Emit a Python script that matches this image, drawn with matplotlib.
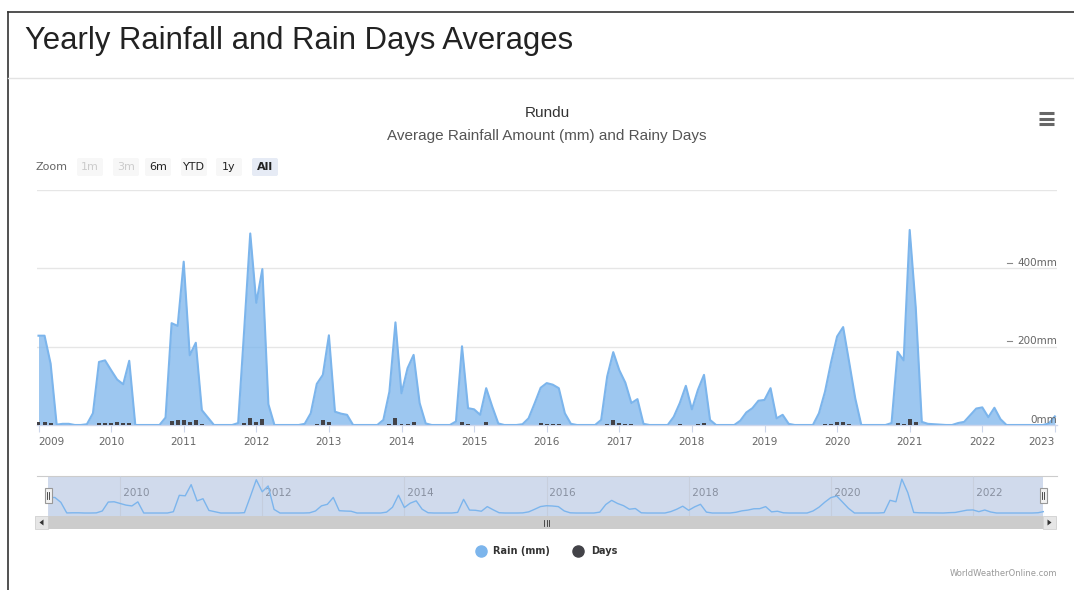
import numpy as np
import matplotlib
matplotlib.use("Agg")
import matplotlib.pyplot as plt
from matplotlib.patches import Rectangle, FancyBboxPatch, Polygon
import matplotlib.transforms as mtransforms

# ---------------- data (monthly, Jan 2009 .. Jan 2023) ----------------
rain_2009 = [228, 228, 157, 1, 3, 3, 0, 0, 2, 30, 161, 165]
rain_2010 = [140, 116, 104, 164, 0, 0, 0, 0, 0, 19, 260, 253]
rain_2011 = [417, 178, 210, 38, 19, 0, 0, 0, 0, 5, 243, 489]
rain_2012 = [312, 398, 53, 0, 0, 0, 0, 0, 3, 30, 105, 128]
rain_2013 = [229, 34, 29, 26, 0, 0, 0, 0, 0, 13, 85, 262]
rain_2014 = [81, 145, 179, 56, 4, 0, 0, 0, 0, 9, 201, 43]
rain_2015 = [40, 26, 94, 47, 4, 0, 0, 0, 2, 17, 55, 95]
rain_2016 = [107, 103, 94, 30, 3, 0, 0, 0, 0, 13, 124, 186]
rain_2017 = [140, 108, 56, 66, 3, 0, 0, 0, 0, 21, 56, 100]
rain_2018 = [40, 90, 128, 13, 0, 0, 0, 0, 11, 32, 43, 62]
rain_2019 = [64, 94, 17, 26, 3, 0, 0, 0, 0, 30, 85, 160]
rain_2020 = [226, 250, 160, 68, 0, 0, 0, 0, 0, 5, 187, 165]
rain_2021 = [498, 300, 8, 3, 2, 1, 0, 0, 5, 8, 25, 42]
rain_2022 = [45, 20, 44, 15, 0, 0, 0, 0, 0, 0, 0, 4]
rain_2023 = [22]

days_2009 = [0.9, 0.9, 0.6, 0, 0, 0, 0, 0, 0, 0, 0.6, 0.6]
days_2010 = [0.6, 0.9, 0.6, 0.6, 0, 0, 0, 0, 0, 0, 1.2, 1.6]
days_2011 = [1.5, 0.9, 1.6, 0.2, 0, 0, 0, 0, 0, 0, 0.6, 2.0]
days_2012 = [0.8, 1.7, 0, 0, 0, 0, 0, 0, 0, 0, 0.3, 1.5]
days_2013 = [0.9, 0, 0, 0, 0, 0, 0, 0, 0, 0, 0.3, 2.0]
days_2014 = [0.3, 0.3, 0.8, 0, 0, 0, 0, 0, 0, 0, 0.9, 0.3]
days_2015 = [0, 0, 0.9, 0, 0, 0, 0, 0, 0, 0, 0, 0.7]
days_2016 = [0.3, 0.3, 0.3, 0, 0, 0, 0, 0, 0, 0, 0.3, 1.5]
days_2017 = [0.6, 0.3, 0.3, 0, 0, 0, 0, 0, 0, 0, 0.3, 0]
days_2018 = [0, 0.3, 0.6, 0, 0, 0, 0, 0, 0, 0, 0, 0]
days_2019 = [0, 0, 0, 0, 0, 0, 0, 0, 0, 0, 0.2, 0.4]
days_2020 = [0.8, 0.8, 0.4, 0, 0, 0, 0, 0, 0, 0, 0.7, 0.4]
days_2021 = [1.7, 1.0, 0, 0, 0, 0, 0, 0, 0, 0, 0, 0]
days_2022 = [0, 0, 0, 0, 0, 0, 0, 0, 0, 0, 0, 0]
days_2023 = [0]

year_labels = [str(y) for y in range(2009, 2024)]
nav_year_labels = ["2010", "2012", "2014", "2016", "2018", "2020", "2022"]
y_ticks = [0, 200, 400]
y_tick_labels = ["0mm", "200mm", "400mm"]
zoom_buttons = ["1m", "3m", "6m", "YTD", "1y", "All"]
legend_labels = ["Rain (mm)", "Days"]

rain_mm = (rain_2009 + rain_2010 + rain_2011 + rain_2012 + rain_2013 + rain_2014 +
           rain_2015 + rain_2016 + rain_2017 + rain_2018 + rain_2019 + rain_2020 +
           rain_2021 + rain_2022 + rain_2023)
rain_days = (days_2009 + days_2010 + days_2011 + days_2012 + days_2013 + days_2014 +
             days_2015 + days_2016 + days_2017 + days_2018 + days_2019 + days_2020 +
             days_2021 + days_2022 + days_2023)
months = np.arange(len(rain_mm))

# ---------------- figure ----------------
W, H = 1074, 590
fig = plt.figure(figsize=(W / 100, H / 100), dpi=100)
fig.patch.set_facecolor("white")


def ax_px(x0, y0, x1, y1, **kw):
    return fig.add_axes([x0 / W, 1 - y1 / H, (x1 - x0) / W, (y1 - y0) / H], **kw)


BLUE = "#7cb5ec"
DARK = "#434348"
GRID = "#e6e6e6"

# background decoration axes (pixel coordinates)
bg = fig.add_axes([0, 0, 1, 1])
bg.set_xlim(0, W)
bg.set_ylim(H, 0)
bg.axis("off")

# panel borders
bg.plot([8, W], [12, 12], color="#333333", lw=1.2)
bg.plot([8, 8], [12, H], color="#333333", lw=1.2)
bg.plot([8, W], [78, 78], color="#e3e3e3", lw=1.0)

# page title
bg.text(25, 41, "Yearly Rainfall and Rain Days Averages", fontsize=22.3,
        family="Liberation Sans", color="#222222", va="center", ha="left")

# chart title / subtitle
bg.text(547, 113, "Rundu", fontsize=11, family="Liberation Sans",
        color="#333333", ha="center", va="center")
bg.text(547, 136, "Average Rainfall Amount (mm) and Rainy Days", fontsize=11,
        family="Liberation Sans", color="#555555", ha="center", va="center")

# hamburger menu
for yy in (113, 118.5, 124):
    bg.plot([1039, 1054], [yy, yy], color="#666666", lw=2.2, solid_capstyle="butt")

# range selector
bg.text(36, 167, "Zoom", fontsize=8, color="#666666", ha="left", va="center")
btn_x = [90, 126, 158, 194, 229, 265]
for lbl, bx in zip(zoom_buttons, btn_x):
    sel = lbl == "All"
    dis = lbl in ("1m", "3m")
    face = "#e6ebf5" if sel else "#f7f7f7"
    bg.add_patch(FancyBboxPatch((bx - 13, 158), 26, 18,
                                boxstyle="round,pad=0,rounding_size=2",
                                facecolor=face, edgecolor="none"))
    bg.text(bx, 167, lbl, fontsize=8, ha="center", va="center",
            color="#cccccc" if dis else "#222222",
            fontweight="bold" if sel else "normal")

# ---------------- main chart ----------------
X0, X1 = 37, 1057
PX_PER_MONTH = 6.05
FIRST_X = 38.5
xlim_main = ((X0 - FIRST_X) / PX_PER_MONTH, (X1 - FIRST_X) / PX_PER_MONTH)

ax = ax_px(X0, 190, X1, 425)
ax.set_facecolor("none")
ax.set_xlim(*xlim_main)
ax.set_ylim(0, 600)
for v in (200, 400, 600):
    ax.axhline(v, color=GRID, lw=1, zorder=0)
ax.fill_between(months, rain_mm, 0, color=BLUE, alpha=0.75, lw=0, zorder=2)
ax.plot(months, rain_mm, color=BLUE, lw=1.5, zorder=3)

for s in ("top", "left", "right"):
    ax.spines[s].set_visible(False)
ax.spines["bottom"].set_color("#ccd6eb")
ax.spines["bottom"].set_linewidth(1)
ax.set_yticks([])
ax.set_xticks(np.arange(0, len(rain_mm), 12))
ax.set_xticklabels(year_labels)
ax.tick_params(axis="x", length=5, color="#ccd6eb", labelsize=7.5,
               labelcolor="#666666", pad=3.5)
tl = ax.get_xticklabels()
tl[0].set_ha("left")
tl[-1].set_ha("right")

# days bars on hidden axis
axd = ax.twinx()
axd.set_ylim(0, 70)
axd.set_xlim(*xlim_main)
axd.bar(months, rain_days, width=0.65, color=DARK, zorder=4)
axd.axis("off")

# y labels on right inside plot
trans = mtransforms.blended_transform_factory(ax.transAxes, ax.transData)
for v, lbl in zip(y_ticks, y_tick_labels):
    ax.text(1.0, v + 14, lbl, transform=trans, ha="right", va="center",
            fontsize=7.5, color="#666666", zorder=6)
for v in (200, 400):
    bg.plot([1007, 1012], [425 - v * 0.39 - 6, 425 - v * 0.39 - 6],
            color="#888888", lw=0.8)

# ---------------- navigator ----------------
NX0, NX1 = 49, 1044
nav = ax_px(NX0, 476, NX1, 516)
nav.set_facecolor("none")
nav.set_xlim(0, len(rain_mm) - 1)
nav.set_ylim(-44, 544)
nav.axis("off")
for k, lbl in enumerate(nav_year_labels):
    xm = 12 + 24 * k
    nav.axvline(xm, color="#c8cfdd", lw=0.8, zorder=1)
    nav.text(xm, 300, " " + lbl, fontsize=7.5, color="#8890a0", ha="left",
             va="center", zorder=2)
nav.fill_between(months, rain_mm, -44, color=BLUE, alpha=0.05, lw=0, zorder=2)
nav.plot(months, rain_mm, color=BLUE, lw=1.0, zorder=3)

# mask + outline
bg.add_patch(Rectangle((48, 476), 1043 - 48, 40, facecolor=(102 / 255, 133 / 255, 194 / 255, 0.3),
                       edgecolor="none", zorder=1))
bg.plot([37, 1057], [476, 476], color="#cccccc", lw=0.8)

# handles (drawn in an overlay axes so they sit on top)
top = fig.add_axes([0, 0, 1, 1])
top.set_xlim(0, W)
top.set_ylim(H, 0)
top.axis("off")
for hx in (48, 1043):
    top.add_patch(Rectangle((hx - 3.5, 488), 7, 15, facecolor="#f2f2f2",
                            edgecolor="#999999", lw=0.8))
    top.plot([hx - 1, hx - 1], [492, 499], color="#333333", lw=0.6)
    top.plot([hx + 1, hx + 1], [492, 499], color="#333333", lw=0.6)

# scrollbar
top.add_patch(Rectangle((35, 516), 1057 - 35, 13, facecolor="#f2f2f2", edgecolor="none"))
top.add_patch(Rectangle((48, 516), 1043 - 48, 13, facecolor="#cccccc", edgecolor="none"))
top.add_patch(Rectangle((35, 516), 13, 13, facecolor="#e6e6e6", edgecolor="#cccccc", lw=0.5))
top.add_patch(Rectangle((1043, 516), 13, 13, facecolor="#e6e6e6", edgecolor="#cccccc", lw=0.5))
top.add_patch(Polygon([[43.5, 519.5], [43.5, 525.5], [39.5, 522.5]], closed=True,
                      facecolor="#333333", edgecolor="none"))
top.add_patch(Polygon([[1047.5, 519.5], [1047.5, 525.5], [1051.5, 522.5]], closed=True,
                      facecolor="#333333", edgecolor="none"))
for gx in (544, 546.5, 549):
    top.plot([gx, gx], [519.5, 525.5], color="#333333", lw=0.6)

# ---------------- legend ----------------
top.plot([481], [551], "o", ms=8, color=BLUE)
top.text(493, 551, legend_labels[0], fontsize=7, fontweight="bold", color="#333333",
         ha="left", va="center")
top.plot([578], [551], "o", ms=8, color=DARK)
top.text(591, 551, legend_labels[1], fontsize=7, fontweight="bold", color="#333333",
         ha="left", va="center")

# credits
top.text(1057, 573, "WorldWeatherOnline.com", fontsize=6, color="#999999",
         ha="right", va="center")

fig.savefig("out.png", dpi=100, facecolor="white")
